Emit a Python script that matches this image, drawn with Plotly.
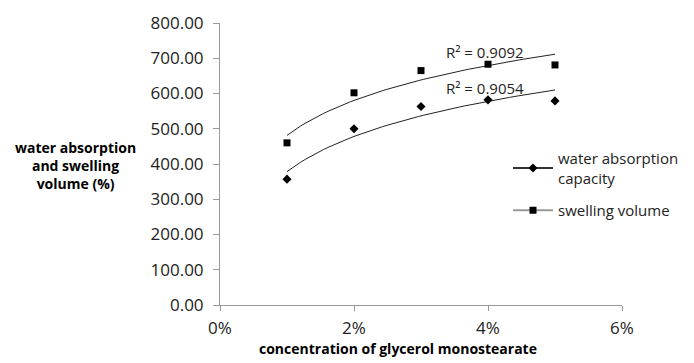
import numpy as np
import plotly.graph_objects as go

concentration = [1, 2, 3, 4, 5]  # percent
water_absorption = [357, 500, 563, 582, 579]
swelling_volume = [460, 602, 665, 683, 681]
r2_water = "R² = 0.9054"
r2_swell = "R² = 0.9092"
x_ticks = [0, 2, 4, 6]
x_tick_labels = ["0%", "2%", "4%", "6%"]
y_ticks = [0, 100, 200, 300, 400, 500, 600, 700, 800]

FONT = "Open Sans"

# page has an 8px body margin; figure coordinates are page coordinates minus 8
W, H = 686, 355
PL, PR, PT, PB = 212, 614, 15, 297  # plot area in figure pixels


def log_fit(x, y):
    lx = np.log(np.array(x, dtype=float))
    a, b = np.polyfit(lx, np.array(y, dtype=float), 1)
    xs = np.linspace(min(x), max(x), 60)
    return xs, a * np.log(xs) + b


def px(xp):
    return (xp - 8 - PL) / (PR - PL)


def py(yp):
    return (PB - (yp - 8)) / (PB - PT)


fig = go.Figure()

xs, ys = log_fit(concentration, water_absorption)
fig.add_trace(go.Scatter(x=xs, y=ys, mode="lines", line=dict(color="#222222", width=1),
                         showlegend=False, hoverinfo="skip"))
xs2, ys2 = log_fit(concentration, swelling_volume)
fig.add_trace(go.Scatter(x=xs2, y=ys2, mode="lines", line=dict(color="#222222", width=1),
                         showlegend=False, hoverinfo="skip"))

fig.add_trace(go.Scatter(x=concentration, y=water_absorption, mode="markers",
                         showlegend=False,
                         marker=dict(symbol="diamond", size=7, color="black")))
fig.add_trace(go.Scatter(x=concentration, y=swelling_volume, mode="markers",
                         showlegend=False,
                         marker=dict(symbol="square", size=7, color="black")))

# legend entries (line + marker glyphs as in the original)
fig.add_trace(go.Scatter(x=[None], y=[None], mode="lines+markers",
                         name="water absorption<br>capacity", legendgroup="wa",
                         marker=dict(symbol="diamond", size=7, color="black"),
                         line=dict(color="#333333", width=2)))
fig.add_trace(go.Scatter(x=[None], y=[None], mode="lines+markers",
                         name="swelling volume", legendgroup="sv",
                         marker=dict(symbol="square", size=7, color="black"),
                         line=dict(color="#999999", width=2)))

fig.add_annotation(x=3.35, y=718, xanchor="left", yanchor="middle", text=r2_swell, showarrow=False,
                   font=dict(family=FONT, size=15, color="#222222"))
fig.add_annotation(x=3.35, y=616, xanchor="left", yanchor="middle", text=r2_water, showarrow=False,
                   font=dict(family=FONT, size=15, color="#222222"))

fig.add_annotation(xref="paper", yref="paper", x=px(75), y=py(165), xanchor="center",
                   yanchor="middle",
                   text="<b>water absorption<br>and swelling<br>volume (%)</b>", showarrow=False,
                   font=dict(family=FONT, size=14, color="black"), align="center")
fig.add_annotation(xref="paper", yref="paper", x=px(398), y=py(348),
                   xanchor="center", yanchor="middle",
                   text="<b>concentration of glycerol monostearate</b>", showarrow=False,
                   font=dict(family=FONT, size=14, color="black"))

fig.update_layout(
    width=W, height=H,
    margin=dict(l=PL, r=W - PR, t=PT, b=H - PB, autoexpand=False),
    paper_bgcolor="white", plot_bgcolor="white",
    font=dict(family=FONT, size=16, color="#222222"),
    showlegend=True,
    legend=dict(x=px(508), y=py(142), xanchor="left", yanchor="top",
                bgcolor="rgba(0,0,0,0)",
                font=dict(family=FONT, size=15, color="#222222"), itemwidth=40, tracegroupgap=10),
    xaxis=dict(range=[0, 6], tickvals=x_ticks, ticktext=x_tick_labels, showgrid=False,
               zeroline=False, showline=True, linecolor="#999999", linewidth=1,
               ticks="outside", ticklen=5, tickcolor="#999999", automargin=False,
               ticklabelstandoff=3,
               tickfont=dict(family=FONT, size=17, color="#222222")),
    yaxis=dict(range=[0, 800], tickvals=y_ticks, tickformat=".2f", showgrid=False,
               zeroline=False, showline=True, linecolor="#999999", linewidth=1,
               ticks="outside", ticklen=6, tickcolor="#999999", automargin=False,
               ticklabelstandoff=6,
               tickfont=dict(family=FONT, size=17, color="#222222")),
)

fig.write_html("out.html")
